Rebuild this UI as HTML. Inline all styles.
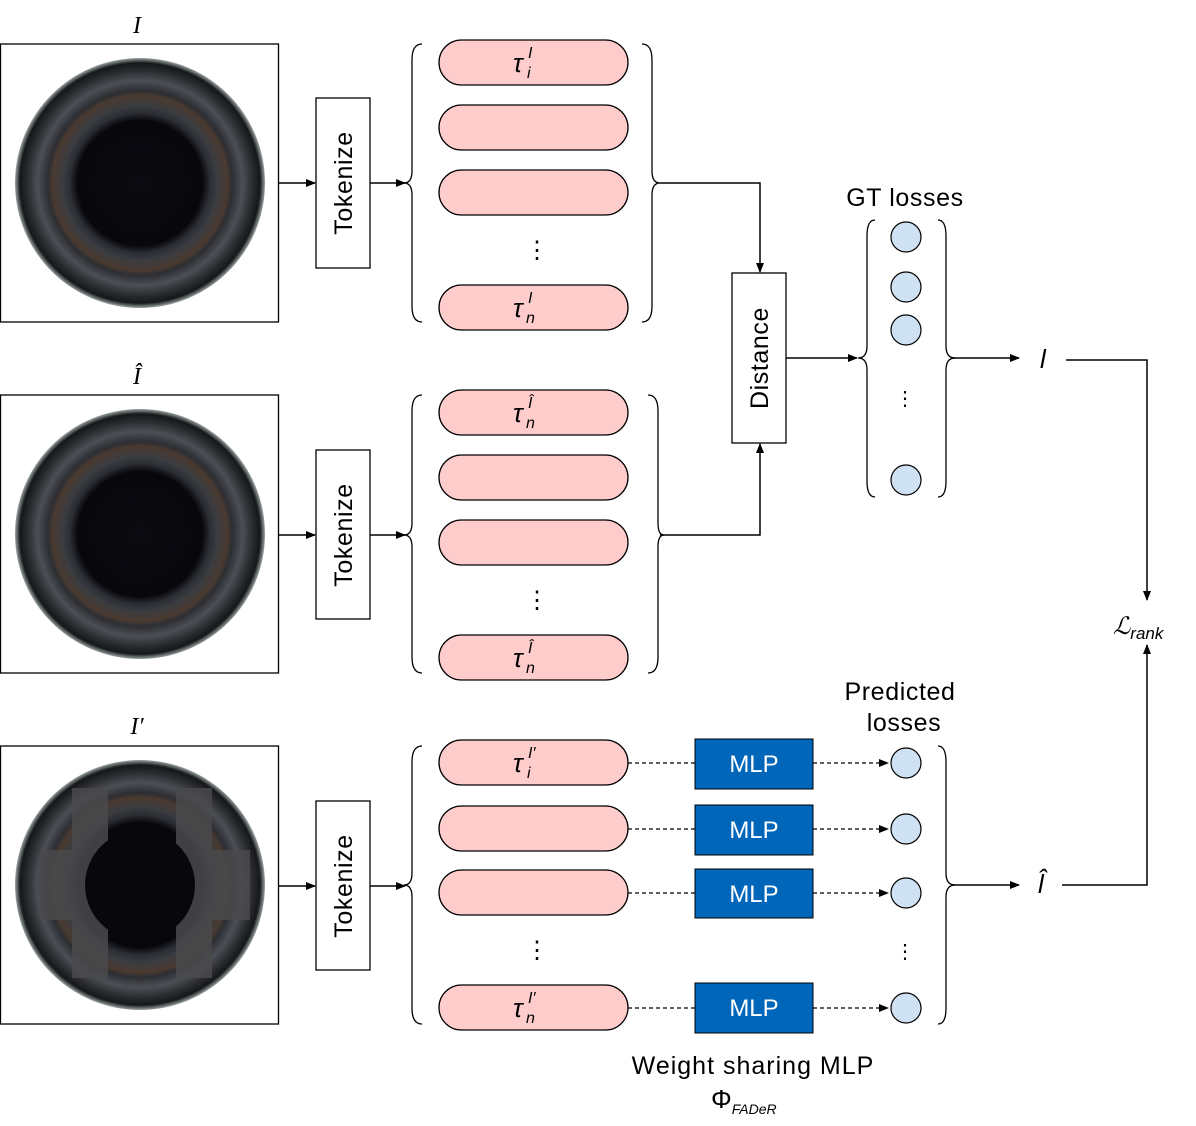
<!DOCTYPE html>
<html><head><meta charset="utf-8"><style>
html,body{margin:0;padding:0;background:#fff;}
svg{display:block;}
text{font-family:"Liberation Sans",sans-serif;}
.m{font-family:"Liberation Serif",serif;font-style:italic;}
</style></head><body>
<svg width="1196" height="1126" viewBox="0 0 1196 1126" xmlns="http://www.w3.org/2000/svg">
<defs>
<marker id="a" markerWidth="10" markerHeight="8" refX="9" refY="4" orient="auto" markerUnits="userSpaceOnUse"><path d="M0,0 L10,4 L0,8 z" fill="#000"/></marker>
<radialGradient id="g">
<stop offset="0" stop-color="#0b0a10"/>
<stop offset="0.5" stop-color="#08070c"/>
<stop offset="0.56" stop-color="#2a2d33"/>
<stop offset="0.62" stop-color="#3a3c40"/>
<stop offset="0.7" stop-color="#4a3a30"/>
<stop offset="0.74" stop-color="#2c2e33"/>
<stop offset="0.82" stop-color="#4c4f55"/>
<stop offset="0.9" stop-color="#2a2c30"/>
<stop offset="0.96" stop-color="#15171b"/>
<stop offset="1" stop-color="#9aa3a0"/>
</radialGradient>
</defs>
<g stroke="#000" stroke-width="1.3" fill="#fff">
<rect x="0.5" y="44" width="278" height="278"/>
<rect x="0.5" y="395" width="278" height="278"/>
<rect x="0.5" y="746" width="278" height="278"/>
</g>
<circle cx="140" cy="183" r="125" fill="url(#g)"/>
<circle cx="140" cy="534" r="125" fill="url(#g)"/>
<circle cx="140" cy="885" r="125" fill="url(#g)"/>
<g fill="#4a4a4c" opacity="0.85">
<rect x="72" y="788" width="36" height="190"/>
<rect x="176" y="788" width="36" height="190"/>
<rect x="40" y="850" width="210" height="70"/>
</g>
<circle cx="140" cy="885" r="55" fill="#08070c"/>
<g font-size="24" class="m" text-anchor="middle">
<text x="137" y="33" class="m">I</text>
<text x="137" y="384" class="m">Î</text>
<text x="137" y="734" class="m">I′</text>
</g>
<g stroke="#000" stroke-width="1.3" fill="#fff">
<rect x="316" y="98" width="54" height="170"/>
<rect x="316" y="450" width="54" height="169"/>
<rect x="316" y="801" width="54" height="169"/>
<rect x="732" y="273" width="54" height="170"/>
</g>
<g font-size="25" text-anchor="middle" letter-spacing="0.6">
<text transform="translate(352,183) rotate(-90)">Tokenize</text>
<text transform="translate(352,535) rotate(-90)">Tokenize</text>
<text transform="translate(352,886) rotate(-90)">Tokenize</text>
<text transform="translate(768,358) rotate(-90)">Distance</text>
</g>
<g stroke="#000" stroke-width="1.5" fill="none" marker-end="url(#a)">
<path d="M278,183 H315"/><path d="M370,183 H405"/>
<path d="M278,535 H315"/><path d="M370,535 H405"/>
<path d="M278,886 H315"/><path d="M370,886 H405"/>
<path d="M660,183 H760 V272"/>
<path d="M660,535 H760 V444"/>
<path d="M786,358 H857"/>
<path d="M952,358 H1019"/>
<path d="M1066,360 H1147 V600"/>
<path d="M952,885 H1019"/>
<path d="M1062,885 H1147 V645"/>
</g>
<g stroke="#000" stroke-width="1.3" fill="none">
<path d="M422,44 Q412,44 412,60 L412,171 Q412,183 404,183 Q412,183 412,195 L412,306 Q412,322 422,322"/>
<path d="M422,395 Q412,395 412,411 L412,523 Q412,535 404,535 Q412,535 412,547 L412,657 Q412,673 422,673"/>
<path d="M422,746 Q412,746 412,762 L412,873 Q412,885 404,885 Q412,885 412,897 L412,1008 Q412,1024 422,1024"/>
<path d="M642,44 Q652,44 652,60 L652,171 Q652,183 660,183 Q652,183 652,195 L652,306 Q652,322 642,322"/>
<path d="M648,395 Q658,395 658,411 L658,523 Q658,535 664,535 Q658,535 658,547 L658,657 Q658,673 648,673"/>
<path d="M875,220 Q867,220 867,236 L867,346 Q867,358 858,358 Q867,358 867,370 L867,481 Q867,497 875,497"/>
<path d="M938,220 Q946,220 946,236 L946,346 Q946,358 955,358 Q946,358 946,370 L946,481 Q946,497 938,497"/>
<path d="M938,746 Q946,746 946,762 L946,873 Q946,885 955,885 Q946,885 946,897 L946,1008 Q946,1024 938,1024"/>
</g>
<g fill="#ffcccc" stroke="#000" stroke-width="1.3">
<rect x="439" y="40" width="189" height="45" rx="22.5"/>
<rect x="439" y="105" width="189" height="45" rx="22.5"/>
<rect x="439" y="170" width="189" height="45" rx="22.5"/>
<rect x="439" y="285" width="189" height="45" rx="22.5"/>
<rect x="439" y="390" width="189" height="45" rx="22.5"/>
<rect x="439" y="455" width="189" height="45" rx="22.5"/>
<rect x="439" y="520" width="189" height="45" rx="22.5"/>
<rect x="439" y="635" width="189" height="45" rx="22.5"/>
<rect x="439" y="740" width="189" height="45" rx="22.5"/>
<rect x="439" y="806" width="189" height="45" rx="22.5"/>
<rect x="439" y="870" width="189" height="45" rx="22.5"/>
<rect x="439" y="985" width="189" height="45" rx="22.5"/>
</g>
<g font-size="24" text-anchor="middle">
<text x="537" y="258">⋮</text><text x="537" y="608">⋮</text><text x="537" y="958">⋮</text>
<text x="905" y="405" font-size="20">⋮</text><text x="905" y="958" font-size="20">⋮</text>
</g>
<g class="m" font-size="26">
<text x="513" y="72">τ</text><text x="527" y="78" font-size="16">i</text><text x="528" y="58" font-size="16">I</text>
<text x="513" y="317">τ</text><text x="526" y="323" font-size="16">n</text><text x="528" y="303" font-size="16">I</text>
<text x="513" y="422">τ</text><text x="526" y="428" font-size="16">n</text><text x="528" y="408" font-size="16">Î</text>
<text x="513" y="667">τ</text><text x="526" y="673" font-size="16">n</text><text x="528" y="653" font-size="16">Î</text>
<text x="513" y="772">τ</text><text x="527" y="778" font-size="16">i</text><text x="528" y="758" font-size="16">I′</text>
<text x="513" y="1017">τ</text><text x="526" y="1023" font-size="16">n</text><text x="528" y="1003" font-size="16">I′</text>
<text x="1040" y="368" font-size="26">l</text>
<text x="1038" y="893" font-size="26">l̂</text>
<text x="1113" y="634" font-size="24">ℒ<tspan font-size="17" dy="5">rank</tspan></text>
<text x="711" y="1108" font-style="normal">Φ<tspan font-size="14" dy="6" font-style="italic">FADeR</tspan></text>
</g>
<g stroke="#000" stroke-width="1.2" stroke-dasharray="4,3" fill="none">
<path d="M628,763 H695"/><path d="M628,829 H695"/><path d="M628,893 H695"/><path d="M628,1008 H695"/>
<path d="M813,763 H888" marker-end="url(#a)"/><path d="M813,829 H888" marker-end="url(#a)"/><path d="M813,893 H888" marker-end="url(#a)"/><path d="M813,1008 H888" marker-end="url(#a)"/>
</g>
<g fill="#0066b9" stroke="#000" stroke-width="1">
<rect x="695" y="739" width="118" height="50"/>
<rect x="695" y="805" width="118" height="50"/>
<rect x="695" y="869" width="118" height="49"/>
<rect x="695" y="983" width="118" height="50"/>
</g>
<g fill="#fff" font-size="24" text-anchor="middle">
<text x="754" y="772">MLP</text><text x="754" y="838">MLP</text><text x="754" y="902">MLP</text><text x="754" y="1016">MLP</text>
</g>
<g fill="#cfe2f3" stroke="#000" stroke-width="1.2">
<circle cx="906" cy="237" r="15"/><circle cx="906" cy="287" r="15"/><circle cx="906" cy="330" r="15"/><circle cx="906" cy="480" r="15"/>
<circle cx="906" cy="763" r="15"/><circle cx="906" cy="829" r="15"/><circle cx="906" cy="893" r="15"/><circle cx="906" cy="1008" r="15"/>
</g>
<g font-size="25" text-anchor="middle" letter-spacing="0.6">
<text x="905" y="206">GT losses</text>
<text x="900" y="700">Predicted</text>
<text x="904" y="731">losses</text>
<text x="753" y="1074" letter-spacing="1">Weight sharing MLP</text>
</g>
</svg>
</body></html>
